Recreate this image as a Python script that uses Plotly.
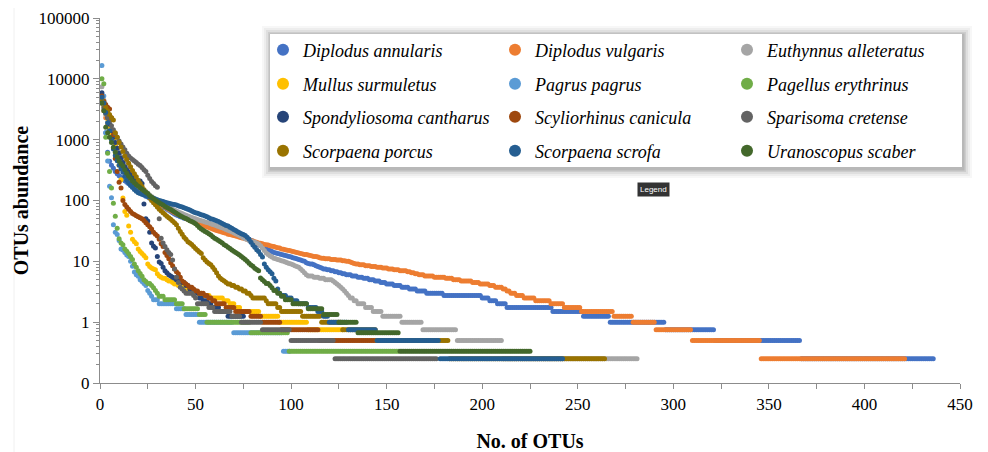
import plotly.graph_objects as go

# ---------------- data (rank-abundance, averaged reads per OTU) ----------------
species = ["Diplodus annularis", "Diplodus vulgaris", "Euthynnus alleteratus",
           "Mullus surmuletus", "Pagrus pagrus", "Pagellus erythrinus",
           "Spondyliosoma cantharus", "Scyliorhinus canicula", "Sparisoma cretense",
           "Scorpaena porcus", "Scorpaena scrofa", "Uranoscopus scaber"]

colors = ["#4472C4", "#ED7D31", "#A5A5A5", "#FFC000", "#5B9BD5", "#70AD47",
          "#264478", "#9E480E", "#636363", "#997300", "#255E91", "#43682B"]

# top = individually ranked abundances; runs = (abundance, number of OTUs sharing it)
annularis_top = [5000, 3600, 1300, 620, 440, 380, 340, 300, 275, 255,
                 240, 225, 212, 200, 188, 176, 165, 156, 148, 140,
                 134, 128, 123, 118, 114, 109, 105, 100, 96, 92,
                 88, 84, 80, 76, 72, 69, 66, 63, 60, 58,
                 56, 54, 53, 51, 50, 49, 48, 47, 46, 45,
                 44, 43, 42, 41, 40, 39, 38.5, 37.5, 37, 36,
                 35, 34.5, 33.5, 33, 32, 31, 30.5, 29.5, 29, 28,
                 27.5, 27, 26.5, 25.5, 25, 24, 23.5, 23, 22, 21.5,
                 20.5, 19.5, 18.75, 18, 17, 16.5, 16, 15.5, 15, 14.5,
                 14, 13.75, 13.5, 13.25, 13, 12.75, 12.5, 12.25, 12]
annularis_runs = [(11.75, 1), (11.5, 1), (11.25, 1), (11, 1), (10.75, 1), (10.5, 1), (10.25, 1), (10, 1),
                  (9.5, 1), (9.25, 1), (9, 2), (8.75, 1), (8.5, 1), (8.25, 1), (8, 1), (7.75, 1),
                  (7.5, 2), (7.25, 2), (7, 2), (6.75, 2), (6.5, 2), (6.25, 2), (6, 3), (5.75, 3),
                  (5.5, 3), (5.25, 3), (5, 3), (4.75, 3), (4.5, 3), (4.25, 4), (4, 4), (3.75, 4),
                  (3.5, 4), (3.25, 5), (3, 9), (2.75, 20), (2.5, 4), (2.25, 4), (2, 5), (1.75, 24),
                  (1.5, 16), (1.25, 14), (1, 29), (0.75, 26), (0.5, 45), (0.25, 70)]

vulgaris_top = [4200, 3000, 2300, 1800, 1400, 1150, 950, 800, 680, 580,
                500, 440, 390, 345, 305, 270, 240, 215, 195, 178,
                165, 153, 142, 133, 125, 118, 111, 105, 100, 95,
                90, 86, 82, 78, 75, 72, 69, 66, 63, 61,
                59, 57, 55, 53, 51, 49, 47.5, 46, 44.5, 43,
                42, 41, 40, 39, 38, 37, 36, 35, 34, 33,
                32, 31.5, 31, 30, 29.5, 29, 28, 27.5, 27, 26.5,
                26, 25.5, 25, 24.5, 24, 23.5, 23, 22.5, 22, 21.5,
                21, 20.5, 20, 19.75, 19.5, 19, 18.75, 18.5, 18, 17.75,
                17.5, 17, 16.75, 16.5, 16, 15.75, 15.5, 15.25, 15]
vulgaris_runs = [(14.75, 1), (14.5, 1), (14.25, 1), (14, 1), (13.75, 1), (13.5, 1), (13.25, 1), (13, 2),
                 (12.75, 1), (12.5, 1), (12.25, 1), (12, 2), (11.75, 1), (11.5, 1), (11.25, 2), (11, 3),
                 (10.75, 3), (10.5, 3), (10.25, 2), (10, 2), (9.75, 1), (9.5, 1), (9.25, 1), (9, 2),
                 (8.75, 3), (8.5, 3), (8.25, 3), (8, 3), (7.75, 3), (7.5, 3), (7.25, 3), (7, 4),
                 (6.75, 2), (6.5, 2), (6.25, 2), (6, 3), (5.75, 5), (5.5, 6), (5.25, 4), (5, 4),
                 (4.75, 6), (4.5, 4), (4.25, 5), (4, 3), (3.75, 4), (3.5, 2), (3.25, 2), (3, 3),
                 (2.75, 4), (2.5, 6), (2.25, 8), (2, 7), (1.75, 9), (1.5, 17), (1.25, 10), (1, 12),
                 (0.75, 19), (0.5, 36), (0.25, 76)]

euthynnus_top = [7400, 4500, 2600, 1900, 1500, 1200, 1000, 850, 720, 620,
                 530, 460, 400, 350, 310, 280, 250, 228, 208, 190,
                 175, 162, 150, 140, 131, 123, 116, 110, 104, 99,
                 95, 91, 87, 84, 81, 78, 75, 72, 70, 67,
                 65, 63, 61, 59, 57, 55.5, 54, 52.5, 51, 50,
                 48.5, 47.5, 46.5, 45.5, 44.5, 43.5, 42.5, 41.5, 40.5, 39.5,
                 38.5, 37.5, 36.5, 35.5, 34.5, 33.5, 32.5, 31.5, 30.5, 29.5,
                 28.5, 27.5, 26.5, 25.5, 24.5, 23.5, 22.75, 22, 21.5, 21,
                 20.5, 20, 19.25, 18, 16.5, 15, 13.75, 13, 12.25, 11.75,
                 11.25, 11, 10.75, 10.5, 10.25, 10, 9.75, 9.5]
euthynnus_runs = [(9.25, 1), (9, 1), (8.75, 1), (8.5, 1), (8.25, 1), (8, 1), (7.5, 1), (7, 1),
                  (6.5, 1), (6, 1), (5.75, 3), (5.5, 3), (5.25, 3), (5, 4), (4.75, 1), (4.5, 1),
                  (4.25, 1), (4, 1), (3.75, 1), (3.5, 1), (3.25, 1), (3, 1), (2.75, 1), (2.5, 2),
                  (2.25, 2), (2, 4), (1.75, 4), (1.5, 5), (1.25, 10), (1, 11), (0.75, 18),
                  (0.5, 24), (0.25, 71)]

mullus_top = [4500, 3600, 2800, 2200, 1600, 1300, 1050, 850, 600, 380,
              220, 110, 66, 57, 38, 30, 23, 21, 19.5, 16,
              14.5, 13.5, 12.5, 11.5, 9, 8.25, 7.75, 7.5, 7.25, 6.25,
              5.75, 5.5]
mullus_runs = [(5.25, 2), (5, 1), (4.75, 2), (4.5, 1), (4.25, 2), (4, 2), (3.75, 2), (3.5, 3),
               (3.25, 3), (3, 3), (2.75, 4), (2.5, 7), (2.25, 3), (2, 3), (1.75, 3), (1.5, 10),
               (1.25, 10), (1, 15), (0.75, 19)]

pagrus_top = [16500, 5200, 1300, 445, 172, 111, 40, 30, 27.67, 22,
              16, 15.33, 14, 12.67, 12, 10, 8.33, 6.67, 6, 5.67,
              5, 4.67, 4.33, 4, 3.33, 3, 2.67, 2.33, 2.33, 2.33]
pagrus_runs = [(2, 9), (1.667, 5), (1.333, 7), (1, 18), (0.667, 26), (0.333, 4)]

pagellus_top = [10000, 8300, 1100, 600, 300, 160, 90, 55, 35, 23.5,
                20, 18.67, 16, 14.67, 13.33, 12, 10.67, 9, 8, 7,
                6.33, 5.67, 5, 4.67, 4.33, 4.33, 4, 3.67, 3.33, 3,
                2.67, 2.67, 2.67]
pagellus_runs = [(2.333, 6), (2, 4), (1.667, 8), (1.333, 4), (1, 23), (0.667, 20), (0.333, 58)]

spondyliosoma_top = [5900, 4200, 3000, 2300, 1800, 1400, 1100, 900, 720, 600,
                     500, 420, 360, 320, 290, 265, 245, 230, 215, 200,
                     210, 190, 88, 50, 46, 30, 20, 17.75, 16.5, 12,
                     9.75, 9.25, 8, 7, 6.5, 6, 5.75, 5.5, 5.25, 5]
spondyliosoma_runs = [(4.75, 2), (4.5, 2), (4, 2), (3.5, 2), (3.25, 2), (3, 1), (2.5, 2), (2.25, 3),
                      (2, 2), (1.75, 4), (1.5, 4), (1.25, 9)]

scyliorhinus_top = [5200, 4300, 3800, 3400, 3200, 2300, 1200, 490, 300, 200,
                    160, 100, 86, 78, 72, 66, 61, 59, 56, 54,
                    52, 50, 47, 43, 40, 37, 34, 30, 28, 26,
                    23, 19.5, 17.5, 14, 12.5, 11, 9.5, 8.5, 7.5, 6.75,
                    6.25, 5.5, 4.75, 4.5, 4.25]
scyliorhinus_runs = [(4, 1), (3.75, 2), (3.5, 1), (3.25, 2), (3, 3), (2.75, 2), (2.5, 2), (2.25, 2),
                     (2, 5), (1.75, 5), (1.5, 8), (1.25, 6), (1, 10), (0.75, 20), (0.5, 30)]

sparisoma_top = [4000, 3300, 2700, 2300, 2000, 1700, 1450, 1250, 1100, 950,
                 850, 760, 680, 600, 540, 500, 470, 445, 420, 395,
                 375, 350, 320, 300, 260, 230, 205, 190, 175, 165,
                 50, 24, 20, 17.5, 15.5, 14, 13, 10.5, 7.5, 5.5,
                 4.5, 3.75, 3.5, 3.25]
sparisoma_runs = [(3, 4), (2.75, 1), (2.5, 1), (2, 6), (1.75, 3), (1.5, 9), (1.25, 5), (1, 11),
                  (0.75, 15), (0.5, 23), (0.25, 54)]

porcus_top = [4600, 4000, 3400, 3000, 2600, 2300, 2100, 1300, 1100, 900,
              760, 640, 540, 470, 410, 360, 310, 275, 245, 215,
              190, 170, 150, 135, 122, 110, 100, 92, 85, 78,
              72, 67, 63, 59, 55, 52, 49, 46, 43, 40,
              35, 31, 28, 25, 23, 21, 20, 19, 17.5, 16.25,
              15.25, 14.25, 13.5, 11.5, 10.5, 9.75, 9.25, 8.75, 8, 7.25,
              6.5, 5.75, 5.25, 5, 4.75, 4.5]
porcus_runs = [(4.25, 2), (4, 2), (3.75, 2), (3.5, 2), (3.25, 2), (3, 2), (2.75, 1), (2.5, 7),
               (2.25, 1), (2, 5), (1.75, 2), (1.5, 11), (1.25, 10), (1, 11), (0.75, 18),
               (0.5, 38), (0.25, 82)]

scrofa_top = [5000, 4000, 2800, 1900, 1400, 1000, 700, 550, 450, 380,
              330, 290, 250, 215, 195, 178, 165, 152, 142, 134,
              130, 127, 124, 121, 118, 115, 112, 109, 106, 103,
              100, 98, 96, 94, 92, 90, 88.5, 87, 86, 84,
              82, 80, 78, 76, 74, 72, 70, 67, 65, 63,
              61.5, 60, 58.5, 57, 55.5, 54, 52, 50, 49, 48,
              46.5, 45, 43.5, 42, 40.5, 39, 38, 36.5, 35, 33.5,
              32, 30.5, 29.5, 28.5, 27.5, 26.5, 25, 23, 20.5, 18.5,
              17, 15.5, 14.5, 13, 11.75, 9, 8, 7.25, 6.75, 6.25,
              5.25, 4.75, 3.5, 3, 2.75]
scrofa_runs = [(2.75, 2), (2.5, 3), (2.25, 3), (2, 5), (1.75, 5), (1.5, 3), (1.25, 3), (1, 10),
               (0.75, 15), (0.5, 33), (0.25, 65)]

uranoscopus_top = [4000, 3000, 1600, 1300, 1100, 900, 750, 620, 520, 450,
                   400, 370, 320, 280, 250, 230, 210, 195, 182, 172,
                   162, 153, 145, 137, 130, 120, 113, 107, 101, 96,
                   92, 88, 84, 80, 77, 74, 71, 68, 65, 62,
                   59, 56, 54, 52, 50.67, 48.67, 46.67, 45, 43.33, 41.67,
                   39, 36, 34, 32.33, 31, 29.67, 28.33, 27, 25.33, 24,
                   23, 22, 21, 20, 18.67, 18, 17, 16.33, 15.33, 14.67,
                   14, 13.33, 12.67, 12, 11.33, 10.67, 10, 9.33, 8.67, 8.33,
                   7.67, 7.33, 7, 5.33, 5, 4.67, 4.33, 4.33, 4, 3.67,
                   3.33, 3.33, 3, 3, 2.67, 2.67]
uranoscopus_runs = [(2.333, 4), (2, 8), (1.667, 8), (1.333, 8), (1, 10), (0.667, 22), (0.333, 69)]

series_parts = [(annularis_top, annularis_runs), (vulgaris_top, vulgaris_runs),
                (euthynnus_top, euthynnus_runs), (mullus_top, mullus_runs),
                (pagrus_top, pagrus_runs), (pagellus_top, pagellus_runs),
                (spondyliosoma_top, spondyliosoma_runs), (scyliorhinus_top, scyliorhinus_runs),
                (sparisoma_top, sparisoma_runs), (porcus_top, porcus_runs),
                (scrofa_top, scrofa_runs), (uranoscopus_top, uranoscopus_runs)]

y_tickvals = [0.1, 1, 10, 100, 1000, 10000, 100000]
y_ticktext = ["0", "1", "10", "100", "1000", "10000", "100000"]
x_tickvals = [0, 50, 100, 150, 200, 250, 300, 350, 400, 450]


def expand(top, runs):
    vals = list(top)
    for v, n in runs:
        vals.extend([v] * n)
    return vals


# ---------------- figure ----------------
W, H = 988, 452
ML, MR, MT, MB = 100, 28, 18, 69
PW, PH = W - ML - MR, H - MT - MB


def px(x):
    return (x - ML) / PW


def py(y):
    return (H - MB - y) / PH


SERIF = "Liberation Serif, Times New Roman, serif"
legend_names = ["legend", "legend2", "legend3", "legend4"]

fig = go.Figure()
for i, (name, col, (top, runs)) in enumerate(zip(species, colors, series_parts)):
    vals = expand(top, runs)
    fig.add_trace(go.Scatter(
        x=list(range(1, len(vals) + 1)), y=vals, mode="markers", name=name,
        marker=dict(color=col, size=5, line=dict(width=0)),
        legend=legend_names[i // 3],
    ))

row_centers = [50, 84, 117, 151]
legend_common = dict(orientation="h", xanchor="left", yanchor="middle",
                     entrywidth=187, entrywidthmode="pixels", itemsizing="constant",
                     bgcolor="rgba(0,0,0,0)", borderwidth=0, traceorder="normal",
                     font=dict(family=SERIF, size=18, color="black", style="italic"))
legend_layout = {}
for k, ln in enumerate(legend_names):
    legend_layout[ln] = dict(x=px(263), y=py(row_centers[k]), **legend_common)

# legend frame with soft shadow
shapes = []
bx0, by0, bx1, by1 = 270, 34, 962, 167
for s, a in [(9, 0.03), (7, 0.04), (5, 0.06), (3, 0.08), (1.5, 0.1)]:
    shapes.append(dict(type="rect", xref="paper", yref="paper",
                       x0=px(bx0 - s + 1), x1=px(bx1 + s + 1), y0=py(by1 + s + 2), y1=py(by0 - s + 1),
                       line=dict(width=0), fillcolor=f"rgba(0,0,0,{a})", layer="above"))
shapes.append(dict(type="rect", xref="paper", yref="paper",
                   x0=px(bx0), x1=px(bx1), y0=py(by1), y1=py(by0),
                   line=dict(width=0), fillcolor="white", layer="above"))
# faint outer frame line at left
shapes.append(dict(type="line", xref="paper", yref="paper", x0=px(14), x1=px(14),
                   y0=py(452), y1=py(8), line=dict(color="#f0f0f0", width=1)))

fig.update_layout(
    width=W, height=H, margin=dict(l=ML, r=MR, t=MT, b=MB, autoexpand=False),
    paper_bgcolor="white", plot_bgcolor="white",
    font=dict(family=SERIF, size=17, color="black"),
    shapes=shapes,
    **legend_layout,
    annotations=[dict(xref="paper", yref="paper", x=px(653), y=py(189), text="Legend",
                      showarrow=False, font=dict(family="Liberation Sans, Arial", size=8, color="white"),
                      bgcolor="#333333", borderpad=2)],
)
fig.update_xaxes(
    range=[0, 450], tickvals=x_tickvals, showgrid=False, zeroline=False, automargin=False,
    showline=True, linecolor="#8c8c8c", linewidth=1.2,
    ticks="outside", ticklen=5, tickcolor="#8c8c8c",
    minor=dict(dtick=25, ticks="outside", ticklen=5, tickcolor="#8c8c8c", showgrid=False),
    tickfont=dict(family=SERIF, size=17),
    title=dict(text="<b>No. of OTUs</b>", font=dict(family=SERIF, size=20), standoff=24),
)
minor_vals = [m * 10 ** e for e in range(-1, 5) for m in range(2, 10)]
fig.update_yaxes(
    type="log", range=[-1, 5], tickvals=y_tickvals, ticktext=y_ticktext, automargin=False,
    showgrid=False, zeroline=False, showline=True, linecolor="#8c8c8c", linewidth=1.2,
    ticks="outside", ticklen=6, tickcolor="#8c8c8c",
    minor=dict(tickvals=minor_vals, ticks="outside", ticklen=3, tickcolor="#8c8c8c", showgrid=False),
    tickfont=dict(family=SERIF, size=17),
    title=dict(text="<b>OTUs abundance</b>", font=dict(family=SERIF, size=20), standoff=4),
)

fig.write_html("out.html")
